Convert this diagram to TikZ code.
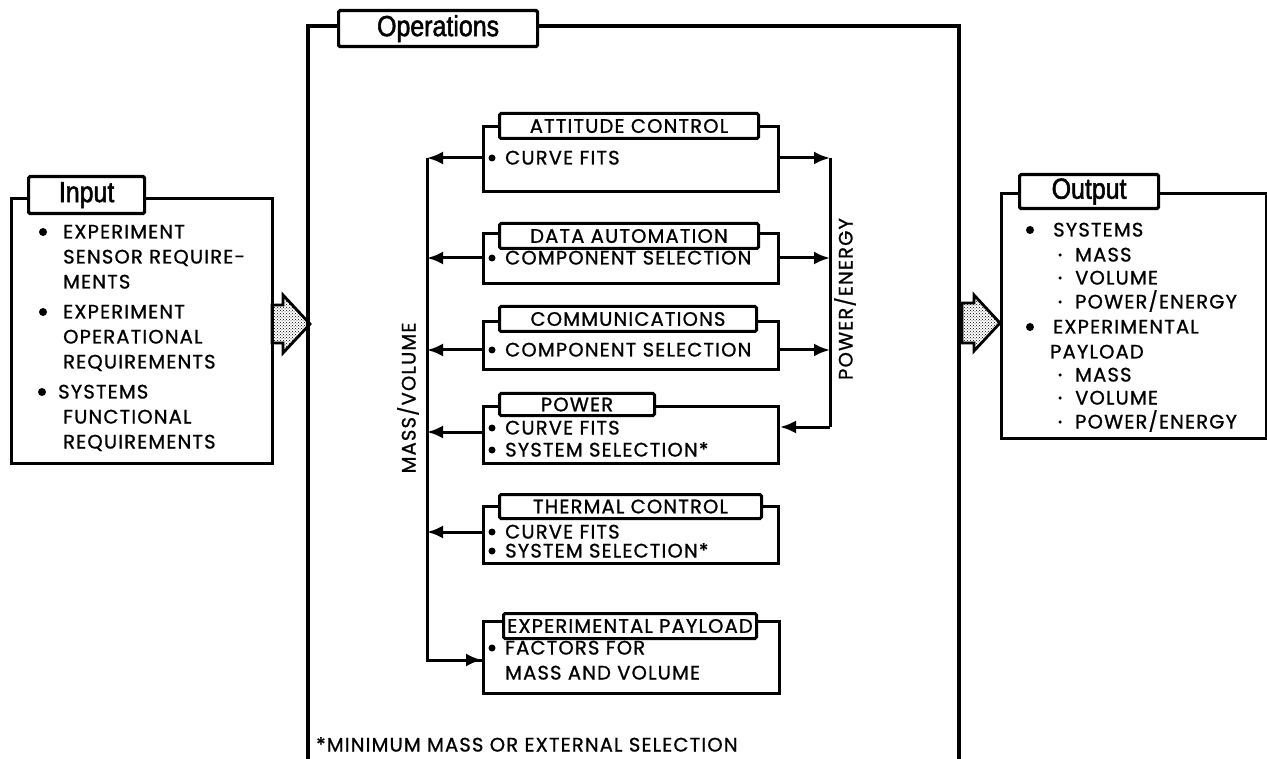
\documentclass[tikz,border=0pt]{standalone}
\usepackage{fontspec}
\setmainfont{Poppins}[LetterSpace=6, FakeBold=1]
\newfontfamily\headfont[FakeStretch=0.86, FakeBold=1.8]{Liberation Sans}
\usetikzlibrary{arrows.meta,patterns}
\tikzset{
  frame/.style={draw, line width=3.2pt, inner sep=0pt, anchor=north west},
  tabbox/.style={draw, fill=white, line width=3pt, rounded corners=1.5pt, inner sep=0pt, anchor=north west, font=\fontsize{19.5}{22}\selectfont},
  headtab/.style={tabbox, line width=3.2pt, font=\headfont\fontsize{29}{29}\selectfont},
  txt/.style={inner sep=0pt, anchor=base west, font=\fontsize{19.5}{22}\selectfont},
  bigdot/.style={circle, fill=black, inner sep=0pt, minimum size=8pt},
  meddot/.style={circle, fill=black, inner sep=0pt, minimum size=7pt},
  smalldot/.style={circle, fill=black, inner sep=0pt, minimum size=3.5pt},
  arr/.style={line width=3pt, -{Latex[length=16pt,width=13pt]}},
  flow/.style={line width=3pt},
  fat/.style={draw, line width=2.8pt, pattern=crosshatch dots, pattern color=black},
  vlabel/.style={inner sep=0pt, rotate=90, font=\fontsize{19.5}{22}\selectfont}
}
\begin{document}
\begin{tikzpicture}[x=1pt,y=-1pt]
\useasboundingbox (0,0) rectangle (1267,759);

% ---------- Input ----------
\node[frame, minimum width=261, minimum height=265] (inbox) at (10,197) {};
\node[headtab, minimum width=116, minimum height=37] (intab) at (27,175) {Input};
\node[bigdot] (ib1) at (43,232) {};
\node[txt] (i1a) at (63,238.5) {EXPERIMENT};
\node[txt] (i1b) at (63,263.5) {SENSOR REQUIRE-};
\node[txt] (i1c) at (63,288.5) {MENTS};
\node[bigdot] (ib2) at (43,312) {};
\node[txt] (i2a) at (63,318.5) {EXPERIMENT};
\node[txt] (i2b) at (63,343.5) {OPERATIONAL};
\node[txt] (i2c) at (63,368.5) {REQUIREMENTS};
\node[bigdot] (ib3) at (42,392) {};
\node[txt] (i3a) at (58,398.5) {SYSTEMS};
\node[txt] (i3b) at (63,423.5) {FUNCTIONAL};
\node[txt] (i3c) at (63,448.5) {REQUIREMENTS};

% ---------- Operations ----------
\draw[line width=3.2pt] (308,765) -- (308,26) -- (959,26) -- (959,765);
\node[headtab, minimum width=199, minimum height=36] (optab) at (337,9) {Operations};

% inner boxes
\node[frame, line width=3pt, minimum width=295, minimum height=65] (att) at (482,125) {};
\node[tabbox, minimum width=259, minimum height=25] (atttab) at (498,112) {ATTITUDE CONTROL};
\node[meddot] (ab1) at (492,158) {};
\node[txt] (at1) at (505,164.5) {CURVE FITS};

\node[frame, line width=3pt, minimum width=295, minimum height=50] (dat) at (482,232) {};
\node[tabbox, minimum width=259, minimum height=25] (dattab) at (498,222) {DATA AUTOMATION};
\node[meddot] (db1) at (492,258) {};
\node[txt] (dt1) at (505,264.5) {COMPONENT SELECTION};

\node[frame, line width=3pt, minimum width=295, minimum height=48] (com) at (482,320) {};
\node[tabbox, minimum width=257, minimum height=25] (comtab) at (498,305) {COMMUNICATIONS};
\node[meddot] (cb1) at (492,350) {};
\node[txt] (ct1) at (505,356.5) {COMPONENT SELECTION};

\node[frame, line width=3pt, minimum width=295, minimum height=57] (pow) at (482,405) {};
\node[tabbox, minimum width=155, minimum height=22] (powtab) at (498,392) {POWER};
\node[meddot] (pb1) at (492,428) {};
\node[txt] (pt1) at (505,434.5) {CURVE FITS};
\node[meddot] (pb2) at (492,450) {};
\node[txt] (pt2) at (505,456.5) {SYSTEM SELECTION*};

\node[frame, line width=3pt, minimum width=295, minimum height=57] (thm) at (482,505) {};
\node[tabbox, minimum width=262, minimum height=24] (thmtab) at (498,493) {THERMAL CONTROL};
\node[meddot] (tb1) at (492,532) {};
\node[txt] (tt1) at (505,538.5) {CURVE FITS};
\node[meddot] (tb2) at (492,551) {};
\node[txt] (tt2) at (505,557.5) {SYSTEM SELECTION*};

\node[frame, line width=3pt, minimum width=296, minimum height=72] (pay) at (482,620) {};
\node[tabbox, minimum width=253, minimum height=25] (paytab) at (502,612) {EXPERIMENTAL PAYLOAD};
\node[meddot] (yb1) at (492,648) {};
\node[txt] (yt1) at (505,654.5) {FACTORS FOR};
\node[txt] (yt2) at (505,679.5) {MASS AND VOLUME};

% collecting lines
\coordinate (L1) at (427,158);
\coordinate (L2) at (427,258);
\coordinate (L3) at (427,350);
\coordinate (L4) at (427,432);
\coordinate (L5) at (427,532);
\coordinate (L6) at (427,660);
\coordinate (R1) at (830,158);
\coordinate (R2) at (830,258);
\coordinate (R3) at (830,350);
\coordinate (R4) at (830,427);

\draw[flow] (L1) -- (L6) -- (pay.west |- L6);
\draw[arr] (L6) -- (pay.west |- L6);
\draw[arr] (att.west |- L1) -- (L1);
\draw[arr] (dat.west |- L2) -- (L2);
\draw[arr] (com.west |- L3) -- (L3);
\draw[arr] (pow.west |- L4) -- (L4);
\draw[arr] (thm.west |- L5) -- (L5);

\draw[flow] (R1) -- (R4);
\draw[arr] (att.east |- R1) -- (R1);
\draw[arr] (dat.east |- R2) -- (R2);
\draw[arr] (com.east |- R3) -- (R3);
\draw[arr] (R4) -- (pow.east |- R4);

\node[vlabel] (mv) at (408,398) {MASS/VOLUME};
\node[vlabel] (pe) at (845,299) {POWER/ENERGY};

\node[txt] (foot) at (316,751.5) {*MINIMUM MASS OR EXTERNAL SELECTION};

% ---------- Output ----------
\node[frame, minimum width=265, minimum height=245] (outbox) at (1000,192) {};
\node[headtab, minimum width=139, minimum height=34] (outtab) at (1018,173) {Output};
\node[bigdot] (ob1) at (1030,230) {};
\node[txt] (o1) at (1053,236.5) {SYSTEMS};
\node[smalldot] (os1) at (1060,255) {};
\node[txt] (o2) at (1075,261.5) {MASS};
\node[smalldot] (os2) at (1060,278) {};
\node[txt] (o3) at (1075,284.5) {VOLUME};
\node[smalldot] (os3) at (1060,302) {};
\node[txt] (o4) at (1075,308.5) {POWER/ENERGY};
\node[bigdot] (ob2) at (1030,327) {};
\node[txt] (o5) at (1053,333.5) {EXPERIMENTAL};
\node[txt] (o6) at (1050,358.5) {PAYLOAD};
\node[smalldot] (os4) at (1060,375) {};
\node[txt] (o7) at (1075,381.5) {MASS};
\node[smalldot] (os5) at (1060,398) {};
\node[txt] (o8) at (1075,404.5) {VOLUME};
\node[smalldot] (os6) at (1060,422) {};
\node[txt] (o9) at (1075,428.5) {POWER/ENERGY};

% ---------- fat arrows ----------
\coordinate (ia) at (272,324);
\draw[fat] (ia) ++(0,-19) -- ++(11,0) -- ++(0,-10) -- ++(27,29) -- ++(-27,29) -- ++(0,-10) -- ++(-11,0) -- cycle;
\coordinate (oa) at (962,323);
\draw[fat] (oa) ++(0,-20) -- ++(12,0) -- ++(0,-8) -- ++(26,28) -- ++(-26,28) -- ++(0,-8) -- ++(-12,0) -- cycle;
\end{tikzpicture}
\end{document}
